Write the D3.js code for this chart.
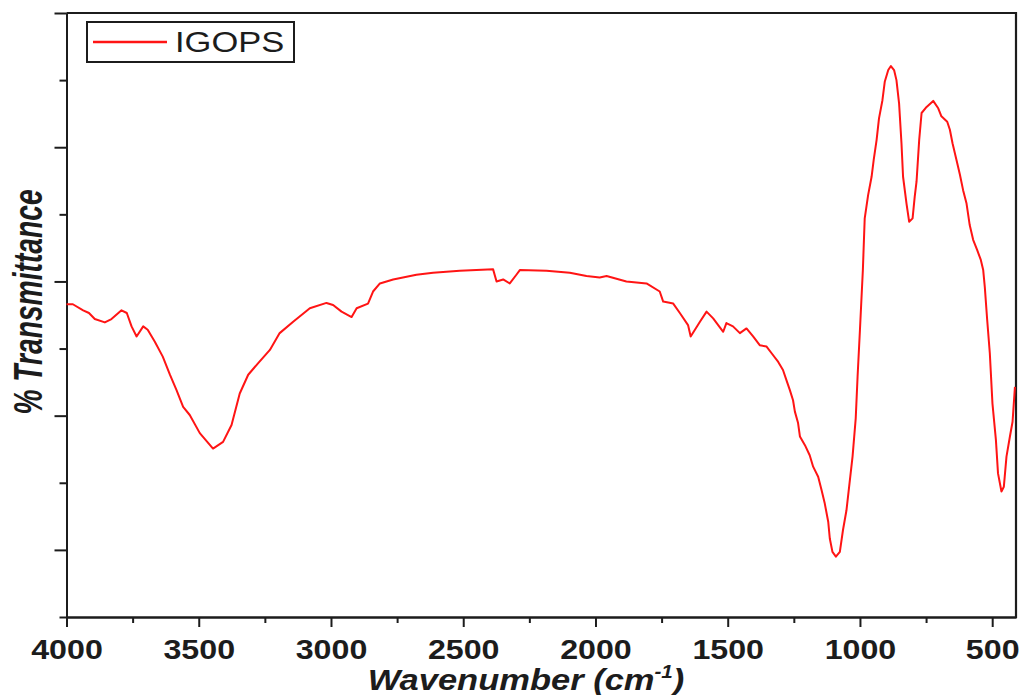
<!DOCTYPE html>
<html>
<head>
<meta charset="utf-8">
<script src="https://cdn.jsdelivr.net/npm/d3@7"></script>
<style>
  html, body { margin: 0; padding: 0; background: #fff; }
  svg { display: block; font-family: "Liberation Sans", Arial, sans-serif; }
</style>
</head>
<body>
<svg id="chart" width="1021" height="695"></svg>
<script>
// FTIR spectrum of IGOPS: wavenumber (cm-1) vs % transmittance
const wavenumber = [
  4000,3976,3937,3915,3893,3855,3830,3792,3772,3754,
  3735,3710,3693,3666,3636,3609,3584,3559,3534,3496,
  3446,3408,3376,3345,3313,3276,3231,3194,3143,3080,
  3017,2992,2960,2922,2903,2860,2841,2815,2765,2677,
  2614,2513,2387,2374,2349,2324,2299,2286,2185,2097,
  2034,1984,1958,1883,1807,1757,1744,1706,1681,1650,
  1640,1605,1580,1555,1517,1505,1480,1454,1429,1404,
  1379,1353,1334,1309,1291,1278,1265,1253,1246,1234,
  1227,1208,1190,1177,1158,1145,1133,1120,1114,1104,
  1091,1076,1064,1051,1041,1028,1016,1009,1000,989,
  982,969,956,948,937,928,915,906,893,883,
  871,862,852,843,837,824,814,801,793,786,
  776,767,748,723,704,692,670,660,650,635,
  622,610,597,585,572,557,543,534,528,519,
  509,499,486,478,465,456,446,433,423,414
];
const transmittance = [
  56.6,56.6,55.7,55.3,54.4,53.9,54.4,55.7,55.3,53.3,
  51.8,53.3,52.8,51.0,48.8,46.1,43.8,41.3,40.1,37.4,
  35.1,36.1,38.6,43.3,46.1,47.8,49.8,52.3,54.0,56.0,
  56.8,56.5,55.5,54.7,56.0,56.7,58.5,59.7,60.3,61.0,
  61.3,61.6,61.8,60.0,60.3,59.7,61.0,61.7,61.6,61.3,
  60.8,60.6,60.8,60.0,59.7,58.5,57.0,56.7,55.3,53.5,
  51.8,54.0,55.5,54.5,52.5,53.8,53.3,52.3,53.0,51.8,
  50.5,50.3,49.3,48.0,46.8,45.3,43.8,42.3,40.6,38.9,
  36.9,35.6,34.1,32.4,30.9,28.9,26.9,24.2,21.7,19.7,
  19.0,19.7,23.0,25.9,29.4,33.9,39.6,45.8,52.8,61.7,
  69.4,72.9,75.6,78.1,81.1,84.3,87.0,89.8,91.5,92.1,
  91.5,90.0,86.5,80.6,75.6,71.6,68.9,69.4,72.6,74.9,
  81.1,85.1,86.0,86.9,85.8,84.6,83.8,82.6,80.6,78.1,
  75.9,73.6,71.6,68.4,66.2,64.7,63.2,61.7,59.2,54.3,
  49.3,41.8,36.4,31.4,28.7,29.4,33.9,36.9,39.1,44.3
];
const seriesName = "IGOPS";
const xMajorTicks = [4000, 3500, 3000, 2500, 2000, 1500, 1000, 500];
const xMinorTicks = [3750, 3250, 2750, 2250, 1750, 1250, 750];
const yMajorTicks = [20, 40, 60, 80, 100];
const yMinorTicks = [10, 30, 50, 70, 90];

const svg = d3.select("#chart");
const plot = { left: 66.5, right: 1016, top: 13, bottom: 617 };
const ink = "#1c1c1c";
const stretch = 1.15;

const x = d3.scaleLinear().domain([4000, 410]).range([plot.left, plot.right]);
const y = d3.scaleLinear().domain([10, 100]).range([plot.bottom, plot.top]);

// Frame: top and right edges
svg.append("line").attr("x1", plot.left).attr("x2", plot.right).attr("y1", plot.top).attr("y2", plot.top)
  .attr("stroke", ink).attr("stroke-width", 2);
svg.append("line").attr("x1", plot.right).attr("x2", plot.right).attr("y1", plot.top - 1).attr("y2", plot.bottom + 1)
  .attr("stroke", ink).attr("stroke-width", 2.2);

function styleAxis(g) {
  g.select(".domain").attr("stroke", ink).attr("stroke-width", 2);
  g.selectAll(".tick line").attr("stroke", ink).attr("stroke-width", 2);
}

// Bottom axis: major ticks with labels, minor ticks without
const xMinor = svg.append("g").attr("transform", `translate(0,${plot.bottom})`)
  .call(d3.axisBottom(x).tickValues(xMinorTicks).tickSize(6).tickSizeOuter(0).tickFormat(""));
styleAxis(xMinor);
const xMajor = svg.append("g").attr("transform", `translate(0,${plot.bottom})`)
  .call(d3.axisBottom(x).tickValues(xMajorTicks).tickSize(10).tickSizeOuter(0)
    .tickPadding(12).tickFormat(d3.format("d")));
styleAxis(xMajor);
xMajor.selectAll(".tick text")
  .attr("fill", ink)
  .attr("font-size", 28)
  .attr("font-weight", "bold")
  .attr("dy", "0.71em")
  .attr("transform", `scale(${stretch},1)`);

// Left axis: ticks only
const yMinor = svg.append("g").attr("transform", `translate(${plot.left},0)`)
  .call(d3.axisLeft(y).tickValues(yMinorTicks).tickSize(7).tickSizeOuter(0).tickFormat(""));
styleAxis(yMinor);
const yMajor = svg.append("g").attr("transform", `translate(${plot.left},0)`)
  .call(d3.axisLeft(y).tickValues(yMajorTicks).tickSize(12).tickSizeOuter(0).tickFormat(""));
styleAxis(yMajor);

// Spectrum line
const points = d3.zip(wavenumber, transmittance);
svg.append("path")
  .datum(points)
  .attr("fill", "none")
  .attr("stroke", "#ff1414")
  .attr("stroke-width", 2)
  .attr("stroke-linejoin", "round")
  .attr("d", d3.line().x(d => x(d[0])).y(d => y(d[1])));

// Legend
const legend = svg.append("g");
legend.append("rect").attr("x", 87).attr("y", 22).attr("width", 207).attr("height", 40)
  .attr("fill", "#fff").attr("stroke", ink).attr("stroke-width", 2);
legend.append("line").attr("x1", 93).attr("x2", 167).attr("y1", 42).attr("y2", 42)
  .attr("stroke", "#ff1414").attr("stroke-width", 2.5);
legend.append("text")
  .attr("transform", `translate(175,52) scale(${stretch},1)`)
  .attr("font-size", 30).attr("fill", ink)
  .text(seriesName);

// Axis titles
const xTitle = svg.append("text")
  .attr("transform", `translate(526,690) scale(${stretch},1)`)
  .attr("text-anchor", "middle")
  .attr("font-size", 30).attr("font-weight", "bold").attr("font-style", "italic")
  .attr("fill", ink);
xTitle.append("tspan").text("Wavenumber (cm");
xTitle.append("tspan").attr("font-size", 18).attr("dy", -12).text("-1");
xTitle.append("tspan").attr("dy", 12).text(")");

svg.append("text")
  .attr("transform", "translate(42,302) rotate(-90) scale(0.83,1.17)")
  .attr("text-anchor", "middle")
  .attr("font-size", 34).attr("font-weight", "bold").attr("font-style", "italic")
  .attr("fill", ink)
  .text("% Transmittance");
</script>
</body>
</html>
